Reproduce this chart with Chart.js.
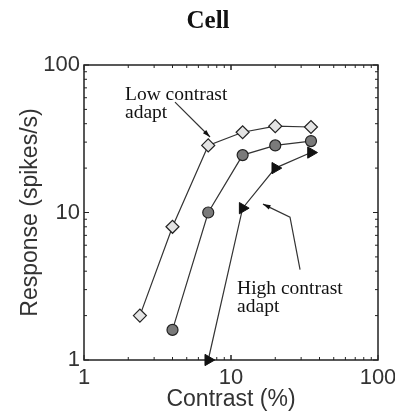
<!DOCTYPE html>
<html>
<head>
<meta charset="utf-8">
<script src="https://cdn.jsdelivr.net/npm/chart.js@4"></script>
<style>
  body { margin: 0; background: #fff; }
  #wrap { width: 395px; height: 412px; position: relative; }
</style>
</head>
<body>
<div id="wrap"><canvas id="cellChart"></canvas></div>
<script>
// contrast (%) and response (spikes/s)
const lowContrast = [2.4, 4, 7, 12, 20, 35];
const lowResponse = [2, 8, 28.5, 35, 38.5, 38];

const controlContrast = [4, 7, 12, 20, 35];
const controlResponse = [1.6, 10, 24.5, 28.5, 30.5];

const highContrast = [7, 12, 20, 35];
const highResponse = [1, 10.7, 20, 25.5];

const xTickValues = [1, 10, 100];
const yTickValues = [1, 10, 100];

// annotation text and arrows, placed in data units
const lowLabel = { x: 1.9, y: 58, lines: ['Low contrast', 'adapt'] };
const lowArrow = [[4.16, 56], [7.2, 32.5]];
const highLabel = { x: 11, y: 2.8, lines: ['High contrast', 'adapt'] };
const highArrow = [[29.5, 4.1], [25.2, 9.3], [16.5, 11.4]];

function toPoints(xs, ys) {
  return xs.map((v, i) => ({ x: v, y: ys[i] }));
}

const LINE = '#333';

const boxPlugin = {
  id: 'boxTicks',
  beforeDatasetsDraw(chart) {
    const { ctx, chartArea: a, scales: { x, y } } = chart;
    ctx.save();
    ctx.strokeStyle = '#222';
    ctx.lineWidth = 1.5;
    ctx.strokeRect(a.left, a.top, a.right - a.left, a.bottom - a.top);
    ctx.lineWidth = 1;
    for (let d = 1; d < 100; d *= 10) {
      for (let k = 1; k <= 10; k++) {
        const v = d * k;
        const len = (k === 1 || k === 10) ? 5 : 3;
        const px = x.getPixelForValue(v);
        const py = y.getPixelForValue(v);
        ctx.beginPath();
        ctx.moveTo(px, a.bottom); ctx.lineTo(px, a.bottom - len);
        ctx.moveTo(px, a.top); ctx.lineTo(px, a.top + len);
        ctx.moveTo(a.left, py); ctx.lineTo(a.left + len, py);
        ctx.moveTo(a.right, py); ctx.lineTo(a.right - len, py);
        ctx.stroke();
      }
    }
    ctx.restore();
  },
  afterDatasetsDraw(chart) {
    const { ctx, scales: { x, y } } = chart;
    ctx.save();
    // title
    ctx.fillStyle = '#111';
    ctx.font = 'bold 25px "Liberation Serif", "Times New Roman", serif';
    ctx.textAlign = 'center';
    ctx.textBaseline = 'alphabetic';
    ctx.fillText('Cell', 208, 28);

    ctx.font = '19.5px "Liberation Serif", "Times New Roman", serif';
    ctx.textAlign = 'left';
    [lowLabel, highLabel].forEach(lab => {
      const px = x.getPixelForValue(lab.x);
      const py = y.getPixelForValue(lab.y);
      lab.lines.forEach((t, i) => ctx.fillText(t, px, py + i * 18));
    });

    ctx.strokeStyle = LINE;
    ctx.fillStyle = '#111';
    ctx.lineWidth = 1.2;
    [lowArrow, highArrow].forEach(path => {
      const pts = path.map(p => [x.getPixelForValue(p[0]), y.getPixelForValue(p[1])]);
      ctx.beginPath();
      ctx.moveTo(pts[0][0], pts[0][1]);
      for (let i = 1; i < pts.length; i++) ctx.lineTo(pts[i][0], pts[i][1]);
      ctx.stroke();
      const [x1, y1] = pts[pts.length - 2];
      const [x2, y2] = pts[pts.length - 1];
      const ang = Math.atan2(y2 - y1, x2 - x1);
      ctx.beginPath();
      ctx.moveTo(x2, y2);
      ctx.lineTo(x2 - 8 * Math.cos(ang - 0.3), y2 - 8 * Math.sin(ang - 0.3));
      ctx.lineTo(x2 - 8 * Math.cos(ang + 0.3), y2 - 8 * Math.sin(ang + 0.3));
      ctx.closePath();
      ctx.fill();
    });
    ctx.restore();
  }
};

const ctx = document.getElementById('cellChart').getContext('2d');
const chart = new Chart(ctx, {
  type: 'line',
  data: {
    datasets: [{
      label: 'Low contrast adapt',
      data: toPoints(lowContrast, lowResponse),
      borderColor: LINE,
      borderWidth: 1.2,
      pointStyle: 'rectRot',
      pointRadius: 6.5,
      pointBackgroundColor: '#e4e4e4',
      pointBorderColor: '#222',
      pointBorderWidth: 1.2,
      clip: false
    }, {
      label: 'Control',
      data: toPoints(controlContrast, controlResponse),
      borderColor: LINE,
      borderWidth: 1.2,
      pointStyle: 'circle',
      pointRadius: 5.5,
      pointBackgroundColor: '#7a7a7a',
      pointBorderColor: '#222',
      pointBorderWidth: 1.2,
      clip: false
    }, {
      label: 'High contrast adapt',
      data: toPoints(highContrast, highResponse),
      borderColor: LINE,
      borderWidth: 1.2,
      pointStyle: 'triangle',
      rotation: 90,
      pointRadius: 6.5,
      pointBackgroundColor: '#111',
      pointBorderColor: '#111',
      pointBorderWidth: 1,
      clip: false
    }]
  },
  options: {
    responsive: true,
    maintainAspectRatio: false,
    animation: false,
    layout: { padding: { top: 65, right: 17, left: 0, bottom: 0 } },
    plugins: { legend: { display: false }, tooltip: { enabled: false } },
    scales: {
      x: {
        type: 'logarithmic',
        min: 1,
        max: 100,
        grid: { display: false, drawTicks: false },
        border: { display: false },
        afterBuildTicks: s => { s.ticks = xTickValues.map(v => ({ value: v })); },
        afterFit: s => { s.height = 52; s.paddingRight = 0; s.paddingLeft = 0; },
        ticks: {
          autoSkip: false,
          maxRotation: 0,
          padding: 5,
          color: '#333',
          font: { family: '"Liberation Sans", Arial, sans-serif', size: 22 },
          callback: v => String(v)
        },
        title: {
          display: true,
          text: 'Contrast (%)',
          color: '#333',
          padding: { top: 0, bottom: 0 },
          font: { family: '"Liberation Sans", Arial, sans-serif', size: 23, lineHeight: 1.05 }
        }
      },
      y: {
        type: 'logarithmic',
        min: 1,
        max: 100,
        grid: { display: false, drawTicks: false },
        border: { display: false },
        afterBuildTicks: s => { s.ticks = yTickValues.map(v => ({ value: v })); },
        afterFit: s => { s.width = 84; s.paddingTop = 0; s.paddingBottom = 0; },
        ticks: {
          autoSkip: false,
          padding: 4,
          color: '#333',
          font: { family: '"Liberation Sans", Arial, sans-serif', size: 22 },
          callback: v => String(v)
        },
        title: {
          display: true,
          text: 'Response (spikes/s)',
          color: '#333',
          padding: { top: 17, bottom: 0 },
          font: { family: '"Liberation Sans", Arial, sans-serif', size: 23 }
        }
      }
    }
  },
  plugins: [boxPlugin]
});
</script>
</body>
</html>
